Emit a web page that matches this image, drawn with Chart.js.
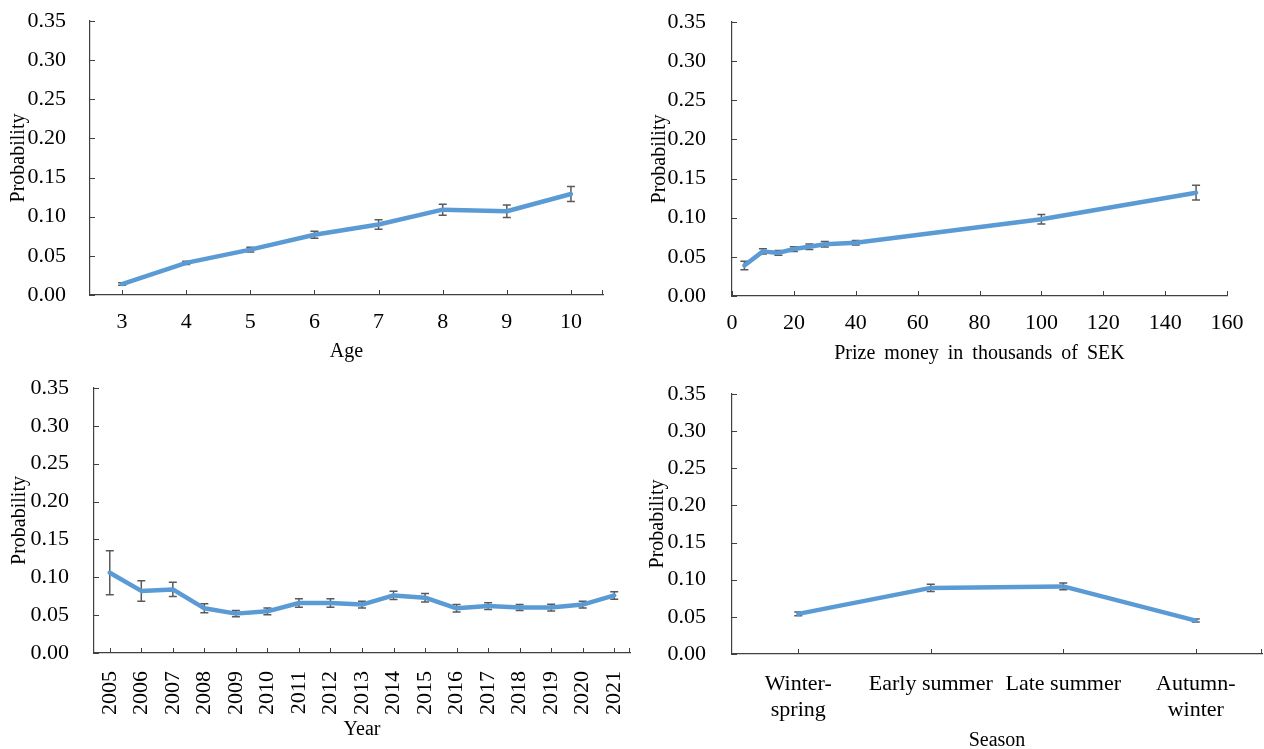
<!DOCTYPE html>
<html><head><meta charset="utf-8">
<script src="https://cdn.jsdelivr.net/npm/chart.js@4.4.0/dist/chart.umd.min.js"></script>
<style>
html,body{margin:0;padding:0;background:#fff;overflow:hidden;width:1264px;height:749px}
#wrap{position:relative;width:1264px;height:749px;overflow:hidden}
canvas{position:absolute;display:block}
</style></head><body>
<div id="wrap">
<canvas id="c1" width="632" height="374" style="left:0;top:0"></canvas>
<canvas id="c2" width="632" height="374" style="left:632px;top:0"></canvas>
<canvas id="c3" width="632" height="375" style="left:0;top:374px"></canvas>
<canvas id="c4" width="632" height="380" style="left:632px;top:374px"></canvas>
</div>
<script>
// ---------- data ----------
const ageLabels = ['3','4','5','6','7','8','9','10'];
const ageProb   = [0.014,0.041,0.058,0.077,0.090,0.109,0.107,0.129];
const ageErr    = [0.0015,0.002,0.003,0.0045,0.006,0.007,0.008,0.0095];

const prizeK     = [4,10,15,20,25,30,40,100,150];
const prizeProb  = [0.039,0.057,0.055,0.060,0.063,0.066,0.068,0.098,0.132];
const prizeErr   = [0.0055,0.0035,0.003,0.003,0.0035,0.0035,0.003,0.006,0.0095];

const yearLabels = ['2005','2006','2007','2008','2009','2010','2011','2012','2013','2014','2015','2016','2017','2018','2019','2020','2021'];
const yearProb   = [0.106,0.082,0.084,0.059,0.052,0.055,0.066,0.066,0.064,0.076,0.073,0.059,0.062,0.060,0.060,0.064,0.076];
const yearErr    = [0.029,0.0135,0.0095,0.006,0.004,0.0045,0.0055,0.0055,0.0045,0.0055,0.0055,0.005,0.0045,0.004,0.0045,0.0045,0.005];

const seasonLabels = [['Winter-','spring'],'Early summer','Late summer',['Autumn-','winter']];
const seasonProb   = [0.054,0.089,0.091,0.045];
const seasonErr    = [0.0025,0.005,0.0045,0.002];

const yTickMin = 0, yTickMax = 0.35, yTickStep = 0.05;
const yTitle = 'Probability';

// ---------- styles ----------
const LINE = '#5B9BD5';
const AXIS = '#404040';
const ERR = '#5a5a5a';
Chart.defaults.font.family = "'Liberation Serif','Times New Roman',serif";
Chart.defaults.color = '#000';

const errorBars = {
  id: 'errorBars',
  beforeDatasetsDraw(chart) {
    const ds = chart.data.datasets[0];
    const err = ds.errors; if (!err) return;
    const meta = chart.getDatasetMeta(0);
    const ys = chart.scales.y;
    const ctx = chart.ctx;
    ctx.save();
    ctx.strokeStyle = ERR; ctx.lineWidth = 1.5;
    meta.data.forEach((pt, i) => {
      const d = ds.data[i];
      const v = (typeof d === 'object') ? d.y : d;
      const x = pt.x;
      const yt = ys.getPixelForValue(v + err[i]);
      const yb = ys.getPixelForValue(v - err[i]);
      ctx.beginPath();
      ctx.moveTo(x, yt); ctx.lineTo(x, yb);
      ctx.moveTo(x - 4, yt); ctx.lineTo(x + 4, yt);
      ctx.moveTo(x - 4, yb); ctx.lineTo(x + 4, yb);
      ctx.stroke();
    });
    ctx.restore();
  }
};

const innerTicks = {
  id: 'innerTicks',
  afterDraw(chart) {
    const {ctx, chartArea: a, scales: {x, y}} = chart;
    ctx.save();
    ctx.strokeStyle = AXIS; ctx.lineWidth = 1;
    ctx.beginPath();
    y.ticks.forEach((t, i) => {
      const py = Math.round(y.getPixelForTick(i)) + 0.5;
      ctx.moveTo(a.left, py); ctx.lineTo(a.left + 5, py);
    });
    x.ticks.forEach((t, i) => {
      const px = Math.round(x.getPixelForTick(i)) + 0.5;
      ctx.moveTo(px, a.bottom); ctx.lineTo(px, a.bottom - 5);
    });
    if (x.type === 'category') {
      const px = Math.round(a.right) - 0.5;
      ctx.moveTo(px, a.bottom); ctx.lineTo(px, a.bottom - 5);
    }
    ctx.stroke();
    ctx.restore();
  }
};

function makeChart(id, o) {
  const isLinear = !!o.xs;
  const data = isLinear ? o.xs.map((xv, i) => ({x: xv, y: o.vals[i]})) : o.vals;
  const xScale = {
    type: isLinear ? 'linear' : 'category',
    offset: !isLinear,
    grid: {display: false},
    border: {display: true, color: AXIS, width: 1.2},
    ticks: {
      font: {size: 22}, color: '#000', padding: o.xPad,
      autoSkip: false,
      maxRotation: o.rot || 0, minRotation: o.rot || 0
    },
    title: {display: true, text: o.xTitle, font: {size: 20}, color: '#000',
            padding: {top: 0, bottom: o.xTitlePad}},
    afterFit(s) { s.height = o.xH; s.paddingLeft = 0; s.paddingRight = 0; }
  };
  if (isLinear) {
    xScale.min = o.xMin; xScale.max = o.xMax;
    xScale.ticks.stepSize = o.xStep;
  }
  return new Chart(document.getElementById(id), {
    type: 'line',
    data: {
      labels: isLinear ? undefined : o.labels,
      datasets: [{
        data: data, errors: o.errs,
        borderColor: LINE, borderWidth: 4.5, pointRadius: 0, tension: 0,
        fill: false, borderCapStyle: 'round', borderJoinStyle: 'round'
      }]
    },
    options: {
      responsive: false, animation: false, devicePixelRatio: 1,
      layout: {padding: o.pad},
      plugins: {legend: {display: false}, tooltip: {enabled: false}},
      scales: {
        x: xScale,
        y: {
          min: yTickMin, max: yTickMax,
          grid: {display: false},
          border: {display: true, color: AXIS, width: 1.2},
          ticks: {stepSize: yTickStep, font: {size: 22}, color: '#000', padding: o.yPad,
                  callback: v => Number(v).toFixed(2)},
          title: {display: true, text: yTitle, font: {size: 20}, color: '#000',
                  padding: {top: o.yTitlePad, bottom: 0}},
          afterFit(s) { s.width = o.yW; s.paddingTop = 0; s.paddingBottom = 0; }
        }
      }
    },
    plugins: [errorBars, innerTicks]
  });
}

makeChart('c1', {labels: ageLabels, vals: ageProb, errs: ageErr, xTitle: 'Age',
  pad: {left: 0, top: 21, right: 29, bottom: 0}, yW: 90, xH: 79,
  yPad: 16, xPad: 6, xTitlePad: 10, yTitlePad: 7});

makeChart('c2', {xs: prizeK, vals: prizeProb, errs: prizeErr, xMin: 0, xMax: 160, xStep: 20,
  xTitle: 'Prize\u2009 money\u2009 in\u2009 thousands\u2009 of\u2009 SEK',
  pad: {left: 0, top: 22, right: 37, bottom: 0}, yW: 100, xH: 78,
  yPad: 18, xPad: 6, xTitlePad: 8, yTitlePad: 16});

makeChart('c3', {labels: yearLabels, vals: yearProb, errs: yearErr, xTitle: 'Year', rot: 90,
  pad: {left: 0, top: 14, right: 2, bottom: 0}, yW: 94, xH: 96,
  yPad: 17, xPad: 10, xTitlePad: 7, yTitlePad: 8});

makeChart('c4', {labels: seasonLabels, vals: seasonProb, errs: seasonErr, xTitle: 'Season',
  pad: {left: 0, top: 20, right: 2, bottom: 0}, yW: 100, xH: 100,
  yPad: 18, xPad: 9, xTitlePad: 1, yTitlePad: 14});
</script>
</body></html>
